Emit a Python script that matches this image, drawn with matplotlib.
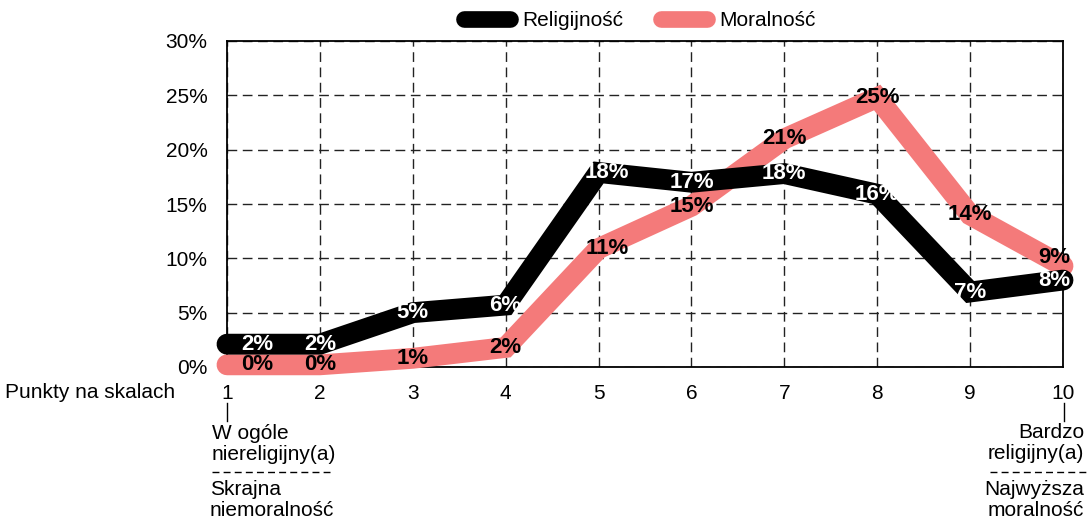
import matplotlib
matplotlib.use("Agg")
import matplotlib.pyplot as plt
from matplotlib.ticker import PercentFormatter

plt.rcParams['font.family'] = ['Liberation Sans', 'DejaVu Sans']

points = [1, 2, 3, 4, 5, 6, 7, 8, 9, 10]
religijnosc = [2.1, 2.1, 5.0, 5.7, 17.9, 17.0, 17.8, 15.9, 6.9, 8.0]
moralnosc = [0.2, 0.2, 0.8, 1.8, 10.9, 14.8, 21.0, 24.8, 14.0, 9.3]
series_names = ['Religijność', 'Moralność']
y_ticks = [0, 5, 10, 15, 20, 25, 30]

black = '#000000'
pink = '#F47A7A'
fs = 15

fig = plt.figure(figsize=(10.88, 5.21), dpi=100)
ax = fig.add_axes([227 / 1088, 1 - 367 / 521, 836 / 1088, 326 / 521])

lw = 15
ax.plot(points, moralnosc, color=pink, lw=lw, solid_capstyle='round',
        solid_joinstyle='miter', clip_on=False, zorder=3, label=series_names[1])
ax.plot(points, religijnosc, color=black, lw=lw, solid_capstyle='round',
        solid_joinstyle='miter', clip_on=False, zorder=4, label=series_names[0])

# data labels (first one nudged inside, last ones nudged apart like the original)
for vals, col, up in [(moralnosc, 'black', 6), (religijnosc, 'white', 0)]:
    n = len(vals)
    for i, (x, v) in enumerate(zip(points, vals)):
        dx, dy = 0, 0
        if i == 0:
            dx = 22
        elif i == n - 1:
            dx, dy = -6, up
        elif i == 4:
            dx = 6
        ax.annotate(f"{round(v)}%", (x, v), xytext=(dx, dy), textcoords='offset points',
                    ha='center', va='center', fontsize=16, fontweight='bold',
                    color=col, zorder=6, annotation_clip=False)

ax.set_xlim(1, 10)
ax.set_ylim(0, 30)
ax.set_xticks(points)
ax.set_yticks(y_ticks)
ax.yaxis.set_major_formatter(PercentFormatter(decimals=0))
ax.tick_params(axis='both', length=0, labelsize=fs, colors='black')
ax.tick_params(axis='x', pad=12)
ax.tick_params(axis='y', pad=14)
ax.grid(True, color='#222222', lw=1, linestyle=(0, (7, 4)))
ax.set_axisbelow(True)
for s in ax.spines.values():
    s.set_color('black')
    s.set_linewidth(1.3)

leg = fig.legend(handles=ax.get_lines()[::-1], loc='center', bbox_to_anchor=(0.588, 1 - 21 / 521),
                 ncol=2, frameon=False, fontsize=fs, handlelength=2.2, columnspacing=1.8,
                 handletextpad=0.6)
for h in leg.get_lines():
    h.set_linewidth(12)
    h.set_solid_capstyle('round')

# axis caption and scale anchors
def fx(px):
    return px / 1088

def fy(py):
    return 1 - py / 521

fig.text(fx(5), fy(392), 'Punkty na skalach', fontsize=fs, ha='left', va='center')

fig.add_artist(plt.Line2D([fx(227), fx(227)], [fy(403), fy(421)], color='black', lw=1))
fig.add_artist(plt.Line2D([fx(1064), fx(1064)], [fy(403), fy(421)], color='black', lw=1))
fig.add_artist(plt.Line2D([fx(212), fx(330)], [fy(472), fy(472)], color='black', lw=1,
                          linestyle=(0, (5, 3))))
fig.add_artist(plt.Line2D([fx(990), fx(1087)], [fy(472), fy(472)], color='black', lw=1,
                          linestyle=(0, (5, 3))))

fig.text(fx(212), fy(444), 'W ogóle\nniereligijny(a)', fontsize=fs, ha='left', va='center',
         linespacing=1.15)
fig.text(fx(210), fy(500), 'Skrajna\nniemoralność', fontsize=fs, ha='left', va='center',
         linespacing=1.15)
fig.text(fx(1084), fy(443), 'Bardzo\nreligijny(a)', fontsize=fs, ha='right', va='center',
         linespacing=1.15, multialignment='right')
fig.text(fx(1084), fy(500), 'Najwyższa\nmoralność', fontsize=fs, ha='right', va='center',
         linespacing=1.15, multialignment='right')

fig.savefig('out.png', dpi=100)
